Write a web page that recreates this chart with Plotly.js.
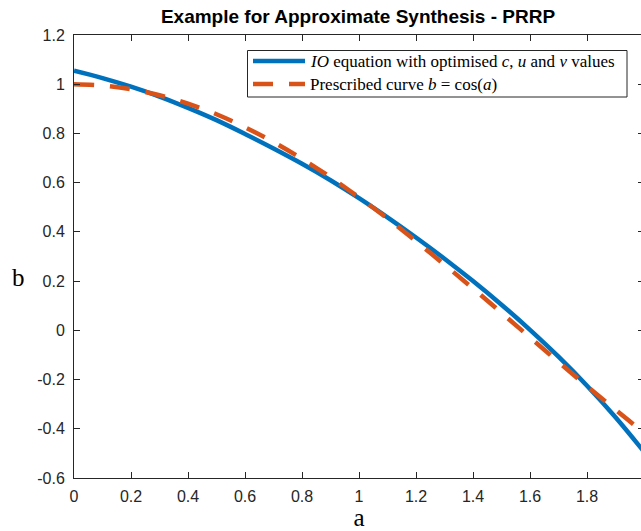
<!DOCTYPE html>
<html>
<head>
<meta charset="utf-8">
<script src="https://cdn.plot.ly/plotly-3.0.1.min.js"></script>
<style>
html,body{margin:0;padding:0;overflow:hidden;background:#fff;}
#chart{width:645px;height:531px;}
</style>
</head>
<body>
<div id="chart"></div>
<script>
// Data
var aValues = [0, 0.1, 0.2, 0.3, 0.4, 0.5, 0.6, 0.7, 0.8, 0.9, 1.0, 1.1, 1.2, 1.3, 1.4, 1.5, 1.6, 1.7, 1.8, 1.9, 2.0];
var ioCurve = [1.055, 1.025, 0.990, 0.950, 0.904, 0.854, 0.798, 0.739, 0.677, 0.610, 0.537, 0.459, 0.377, 0.291, 0.200, 0.104, 0.002, -0.107, -0.225, -0.353, -0.493];
var prescribedCurve = [1.000, 0.995, 0.980, 0.955, 0.921, 0.878, 0.825, 0.765, 0.697, 0.622, 0.540, 0.454, 0.362, 0.267, 0.170, 0.071, -0.029, -0.129, -0.227, -0.323, -0.416];

var seriesNames = [
  '<i>IO</i> equation with optimised <i>c</i>, <i>u</i> and <i>v</i> values',
  'Prescribed curve <i>b</i> = cos(<i>a</i>)'
];
var seriesColors = ['#0072BD', '#D95319'];
var seriesDash = ['solid', '20px,16px'];
var xTickVals = [0, 0.2, 0.4, 0.6, 0.8, 1, 1.2, 1.4, 1.6, 1.8, 2];
var xTickLabels = ['0', '0.2', '0.4', '0.6', '0.8', '1', '1.2', '1.4', '1.6', '1.8', '2'];
var yTickVals = [-0.6, -0.4, -0.2, 0, 0.2, 0.4, 0.6, 0.8, 1, 1.2];
var yTickLabels = ['-0.6', '-0.4', '-0.2', '0', '0.2', '0.4', '0.6', '0.8', '1', '1.2'];
var titleText = '<b>Example for Approximate Synthesis - PRRP</b>';
var xLabel = 'a';
var yLabel = 'b';

var axisColor = '#262626';
var tickFont = {family: 'Liberation Sans, Arial, sans-serif', size: 16, color: axisColor};
var serifFont = 'Liberation Serif, serif';

// plot-area geometry (pixels)
var L = 74, T = 35, W = 570, H = 443;
function px(x) { return (x - L) / W; }
function py(y) { return (T + H - y) / H; }

var traces = [
  {
    x: aValues, y: ioCurve, name: seriesNames[0], type: 'scatter', mode: 'lines',
    line: {color: seriesColors[0], width: 4.5, dash: seriesDash[0], shape: 'spline'}, showlegend: false
  },
  {
    x: aValues, y: prescribedCurve, name: seriesNames[1], type: 'scatter', mode: 'lines',
    line: {color: seriesColors[1], width: 4.5, dash: seriesDash[1], shape: 'spline'}, showlegend: false
  }
];

function axisBase() {
  return {
    ticks: 'inside', ticklen: 6, tickwidth: 1, tickcolor: axisColor,
    showline: true, linecolor: axisColor, linewidth: 1, mirror: 'allticks',
    showgrid: false, zeroline: false, tickfont: tickFont, tickmode: 'array'
  };
}

var xaxis = axisBase();
xaxis.range = [0, 2];
xaxis.tickvals = xTickVals;
xaxis.ticktext = xTickLabels;
xaxis.ticklabelstandoff = 4;
xaxis.title = {text: xLabel, font: {family: serifFont, size: 25, color: '#000'}, standoff: 6};

var yaxis = axisBase();
yaxis.range = [-0.6, 1.2];
yaxis.tickvals = yTickVals;
yaxis.ticktext = yTickLabels;
yaxis.ticklabelstandoff = 5;

// legend box drawn in paper coordinates
var legendRows = [61, 84];
var shapes = [
  {type: 'rect', xref: 'paper', yref: 'paper', x0: px(247.5), x1: px(627), y0: py(50.5), y1: py(97),
   line: {color: axisColor, width: 1}, fillcolor: '#fff', layer: 'above'}
];
var annotations = [
  {text: yLabel, xref: 'paper', yref: 'paper', x: px(18), y: py(277),
   xanchor: 'center', yanchor: 'middle', showarrow: false,
   font: {family: serifFont, size: 25, color: '#000'}}
];
for (var i = 0; i < seriesNames.length; i++) {
  shapes.push({type: 'line', xref: 'paper', yref: 'paper', x0: px(253), x1: px(305),
    y0: py(legendRows[i]), y1: py(legendRows[i]),
    line: {color: seriesColors[i], width: 4.5, dash: seriesDash[i]}, layer: 'above'});
  annotations.push({text: seriesNames[i], xref: 'paper', yref: 'paper', x: px(308), y: py(legendRows[i]),
    xanchor: 'left', yanchor: 'middle', showarrow: false,
    font: {family: serifFont, size: 17, color: '#000'}});
}

var layout = {
  width: 645, height: 531,
  margin: {l: L, r: 645 - L - W, t: T, b: 531 - T - H, pad: 0},
  paper_bgcolor: '#fff', plot_bgcolor: '#fff',
  title: {
    text: titleText,
    font: {family: 'Liberation Sans, Arial, sans-serif', size: 19, color: '#000'},
    x: 358 / 645, xref: 'container', xanchor: 'center',
    y: 1 - 16 / 531, yref: 'container', yanchor: 'middle'
  },
  xaxis: xaxis,
  yaxis: yaxis,
  showlegend: false,
  shapes: shapes,
  annotations: annotations
};

Plotly.newPlot('chart', traces, layout, {displayModeBar: false, staticPlot: true});
</script>
</body>
</html>
